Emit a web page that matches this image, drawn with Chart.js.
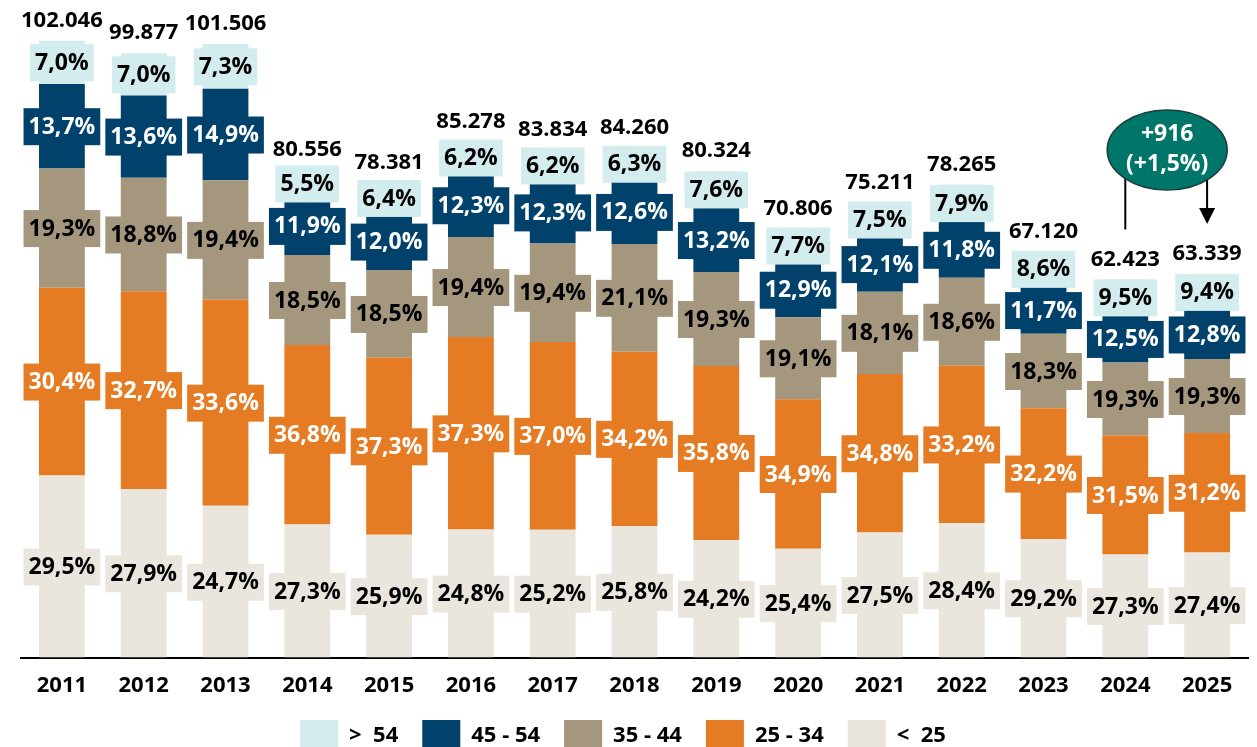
<!DOCTYPE html>
<html>
<head>
<meta charset="utf-8">
<script src="https://cdn.jsdelivr.net/npm/chart.js@4.4.0/dist/chart.umd.min.js"></script>
<style>
  html, body { margin: 0; padding: 0; background: #fff; }
  #wrap { width: 1257px; height: 747px; position: relative; }
</style>
</head>
<body>
<div id="wrap"><canvas id="chart"></canvas></div>
<script>
const years = ['2011', '2012', '2013', '2014', '2015', '2016', '2017', '2018', '2019', '2020', '2021', '2022', '2023', '2024', '2025'];
const totals = [102046, 99877, 101506, 80556, 78381, 85278, 83834, 84260, 80324, 70806, 75211, 78265, 67120, 62423, 63339];
const totalLabels = ['102.046', '99.877', '101.506', '80.556', '78.381', '85.278', '83.834', '84.260', '80.324', '70.806', '75.211', '78.265', '67.120', '62.423', '63.339'];

// shares in percent, per age group
const under25 = [29.5, 27.9, 24.7, 27.3, 25.9, 24.8, 25.2, 25.8, 24.2, 25.4, 27.5, 28.4, 29.2, 27.3, 27.4];
const age25to34 = [30.4, 32.7, 33.6, 36.8, 37.3, 37.3, 37.0, 34.2, 35.8, 34.9, 34.8, 33.2, 32.2, 31.5, 31.2];
const age35to44 = [19.3, 18.8, 19.4, 18.5, 18.5, 19.4, 19.4, 21.1, 19.3, 19.1, 18.1, 18.6, 18.3, 19.3, 19.3];
const age45to54 = [13.7, 13.6, 14.9, 11.9, 12.0, 12.3, 12.3, 12.6, 13.2, 12.9, 12.1, 11.8, 11.7, 12.5, 12.8];
const over54 = [7.0, 7.0, 7.3, 5.5, 6.4, 6.2, 6.2, 6.3, 7.6, 7.7, 7.5, 7.9, 8.6, 9.5, 9.4];

const FONT = '"Open Sans", Lato, sans-serif';

function seg(shares) {
  return shares.map((p, i) => totals[i] * p / 100);
}

const groups = [
  { label: '<  25', shares: under25, color: '#EAE6DD', text: '#000' },
  { label: '25 - 34', shares: age25to34, color: '#E57B22', text: '#fff' },
  { label: '35 - 44', shares: age35to44, color: '#A5977D', text: '#000' },
  { label: '45 - 54', shares: age45to54, color: '#00426B', text: '#fff' },
  { label: '>  54', shares: over54, color: '#D3ECEE', text: '#000' }
];

const segLabels = {
  id: 'segLabels',
  afterDatasetsDraw(chart) {
    const ctx = chart.ctx;
    ctx.save();
    ctx.font = 'bold 23px ' + FONT;
    ctx.textAlign = 'center';
    ctx.textBaseline = 'middle';
    chart.data.datasets.forEach((ds, di) => {
      const meta = chart.getDatasetMeta(di);
      meta.data.forEach((bar, i) => {
        const txt = ds.shares[i].toFixed(1).replace('.', ',') + '%';
        const cy = (bar.y + bar.base) / 2;
        const w = ctx.measureText(txt).width + 10;
        ctx.fillStyle = ds.backgroundColor;
        ctx.fillRect(bar.x - w / 2, cy - 18, w, 37);
        ctx.fillStyle = ds.textColor;
        ctx.fillText(txt, bar.x, cy + 1);
      });
    });
    // totals
    ctx.font = 'bold 22px ' + FONT;
    const topMeta = chart.getDatasetMeta(chart.data.datasets.length - 1);
    ctx.fillStyle = '#000';
    topMeta.data.forEach((bar, i) => {
      ctx.fillText(totalLabels[i], bar.x, bar.y - 20);
    });
    // change bubble between last two years
    const a = topMeta.data[13], b = topMeta.data[14];
    const cx = (a.x + b.x) / 2 + 1, cy = 150;
    ctx.strokeStyle = '#000';
    ctx.lineWidth = 2;
    ctx.beginPath();
    ctx.moveTo(a.x, cy + 25);
    ctx.lineTo(a.x, a.y - 50);
    ctx.moveTo(b.x, cy + 25);
    ctx.lineTo(b.x, b.y - 66);
    ctx.stroke();
    ctx.fillStyle = '#000';
    ctx.beginPath();
    ctx.moveTo(b.x - 8, b.y - 66);
    ctx.lineTo(b.x + 8, b.y - 66);
    ctx.lineTo(b.x, b.y - 50);
    ctx.closePath();
    ctx.fill();
    ctx.beginPath();
    ctx.ellipse(cx, cy, 60, 40, 0, 0, Math.PI * 2);
    ctx.fillStyle = '#00766A';
    ctx.fill();
    ctx.lineWidth = 1.5;
    ctx.strokeStyle = '#1B3B36';
    ctx.stroke();
    ctx.fillStyle = '#fff';
    ctx.font = 'bold 23px ' + FONT;
    ctx.fillText('+916', cx, cy - 16);
    ctx.fillText('(+1,5%)', cx, cy + 14);

    // legend along the bottom, top group first
    ctx.font = 'bold 22px ' + FONT;
    ctx.textAlign = 'left';
    const items = chart.data.datasets.slice().reverse();
    const widths = items.map(d => 38 + 11 + ctx.measureText(d.label).width);
    const gap = 24;
    let x = 623 - (widths.reduce((s, w) => s + w, 0) + gap * (items.length - 1)) / 2;
    items.forEach((d, k) => {
      ctx.fillStyle = d.backgroundColor;
      ctx.fillRect(x, 720, 38, 28);
      ctx.fillStyle = '#000';
      ctx.fillText(d.label, x + 49, 736);
      x += widths[k] + gap;
    });
    ctx.restore();
  }
};

new Chart(document.getElementById('chart'), {
  type: 'bar',
  data: {
    labels: years,
    datasets: groups.map(g => ({
      label: g.label,
      data: seg(g.shares),
      shares: g.shares,
      textColor: g.text,
      backgroundColor: g.color,
      borderWidth: 0,
      barPercentage: 0.56,
      categoryPercentage: 1
    }))
  },
  options: {
    responsive: true,
    maintainAspectRatio: false,
    animation: false,
    layout: { padding: { top: 4, left: 21, right: 9, bottom: 33 } },
    scales: {
      x: {
        stacked: true,
        grid: { display: false, drawTicks: false },
        border: { display: true, color: '#000', width: 2 },
        ticks: { color: '#000', font: { family: FONT, size: 22, weight: 'bold' }, padding: 15 }
      },
      y: {
        stacked: true,
        display: false,
        min: 0,
        max: 108000
      }
    },
    plugins: {
      legend: { display: false },
      tooltip: { enabled: false }
    }
  },
  plugins: [segLabels]
});
</script>
</body>
</html>
